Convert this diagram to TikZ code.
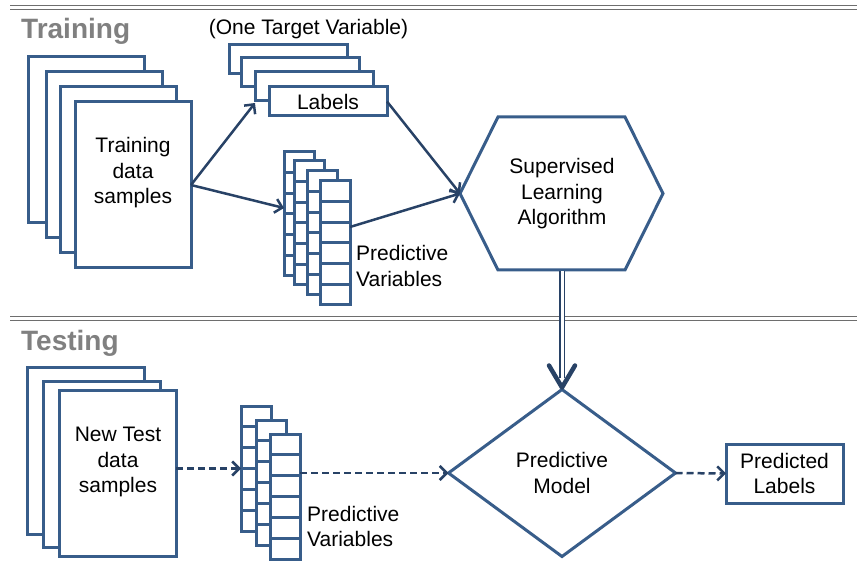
\documentclass[tikz,border=0pt]{standalone}
\usepackage{fontspec}
\setmainfont{Liberation Sans}
\usetikzlibrary{arrows.meta,calc,shapes.geometric}
\definecolor{boxblue}{RGB}{56,93,138}
\definecolor{arrowblue}{RGB}{40,66,102}
\definecolor{headgray}{RGB}{128,128,128}
\definecolor{rulegray}{RGB}{110,110,110}

\tikzset{
  boxline/.style={draw=boxblue, line width=3pt},
  sheet/.style={boxline, fill=white, anchor=north west, outer sep=0pt, inner sep=0pt,
                minimum width=116pt, minimum height=166pt},
  tag/.style={boxline, fill=white, anchor=north west, outer sep=0pt, inner sep=0pt,
              minimum width=118pt, minimum height=29pt},
  vcol/.style={boxline, fill=white, anchor=north west, outer sep=0pt, inner sep=0pt,
               minimum width=30pt},
  txt/.style={font=\fontsize{21}{25.5}\selectfont, align=center, inner sep=0pt},
  head/.style={font=\fontsize{28}{31}\selectfont\bfseries, text=headgray, inner sep=0pt},
  flow/.style={draw=arrowblue, line width=2.5pt, -{Straight Barb[length=7pt,width=14pt]}},
  dflow/.style={flow, dash pattern=on 7pt off 4pt},
  rule/.style={draw=rulegray, line width=1.5pt},
}

% one column of six variable cells: name, left, top, height
\newcommand\varcolumn[4]{%
  \node[vcol, minimum height=#4] (#1) at (#2,#3) {};
  \foreach \k in {1,...,5}
    \draw[boxline] ($(#1.north west)!\k/6!(#1.south west)$) -- ($(#1.north east)!\k/6!(#1.south east)$);
}

\begin{document}
\begin{tikzpicture}[x=1pt,y=-1pt]
\useasboundingbox (0,0) rectangle (857,561);

% section rules
\draw[rule] (10,5.5) -- (857,5.5);
\draw[rule] (10,9.5) -- (857,9.5);
\draw[rule] (10,316.5) -- (857,316.5);
\draw[rule] (10,320.5) -- (857,320.5);

% section headings
\node[head, anchor=base west] (trainhead) at (21,38.5) {Training};
\node[head, anchor=base west] (testhead) at (21,350.5) {Testing};

% ---------- training ----------
\node[sheet] (tr1) at (28,57) {};
\node[sheet] (tr2) at (46,72) {};
\node[sheet] (tr3) at (60,87) {};
\node[sheet] (tr4) at (75,102) {};
\node[txt] (trtext) at (133,173) {Training\\data\\samples};

\node[txt] (target) at (308.5,29) {(One Target Variable)};
\node[tag] (lb1) at (229,45) {};
\node[tag] (lb2) at (241,58) {};
\node[tag] (lb3) at (255,72) {};
\node[tag] (lb4) at (269,87) {};
\node[txt] (lbtext) at (lb4.center) {Labels};

\varcolumn{pv1}{284}{152}{124pt}
\varcolumn{pv2}{294}{161}{124pt}
\varcolumn{pv3}{307}{171}{124pt}
\varcolumn{pv4}{320}{181}{124pt}
\node[txt, align=left, anchor=west] (pvtext) at (356,266) {Predictive\\Variables};

% learning algorithm hexagon
\draw[boxline, fill=white] (498,117) -- (625,117) -- (663,193.5) -- (625,270)
  -- (498,270) -- (460,193.5) -- cycle;
\coordinate (hexW) at (460,193.5);
\coordinate (hexS) at (562,271.5);
\node[txt] (slatext) at (562,194) {Supervised\\Learning\\Algorithm};

\draw[flow] (tr4.east) -- ([yshift=-2pt]lb3.south west);
\draw[flow] (tr4.east) -- ([yshift=6pt]pv1.west);
\draw[flow] (lb4.east) -- (hexW);
\draw[flow] ([yshift=16pt]pv4.east) -- (hexW);

% ---------- testing ----------
\node[sheet, minimum width=117pt] (ts1) at (27,368) {};
\node[sheet, minimum width=117pt] (ts2) at (43,381) {};
\node[sheet, minimum width=117pt] (ts3) at (59,390) {};
\node[txt] (tstext) at (118,462) {New Test\\data\\samples};

\varcolumn{tv1}{241}{406}{125pt}
\varcolumn{tv2}{256}{420}{125pt}
\varcolumn{tv3}{270}{434}{125pt}
\node[txt, align=left, anchor=west] (tvtext) at (307,526.5) {Predictive\\Variables};

\node[diamond, boxline, fill=white, minimum width=227pt, minimum height=167pt,
      inner sep=0pt, outer sep=0pt, aspect=1.36, txt] (dia) at (562,473) {Predictive\\Model};
\node[boxline, fill=white, minimum width=117pt, minimum height=59pt, outer sep=0pt, txt]
  (pl) at (784.5,473.5) {Predicted\\Labels};

\draw[dflow] (ts3.east |- tv1.west) -- (tv1.west);
\draw[dflow] (tv3.east |- dia.west) -- (dia.west);
\draw[dflow] (dia.east) -- (pl.west);

% trained model handed over to testing
\draw[draw=arrowblue, line width=1.5pt, double=white, double distance=3pt]
  (hexS) -- ([yshift=12pt]dia.north);
\draw[arrowblue, line width=4.5pt, line cap=round, line join=round]
  ([shift={(-13pt,24pt)}]dia.north) -- ([yshift=2pt]dia.north) -- ([shift={(13pt,24pt)}]dia.north);
\end{tikzpicture}
\end{document}
